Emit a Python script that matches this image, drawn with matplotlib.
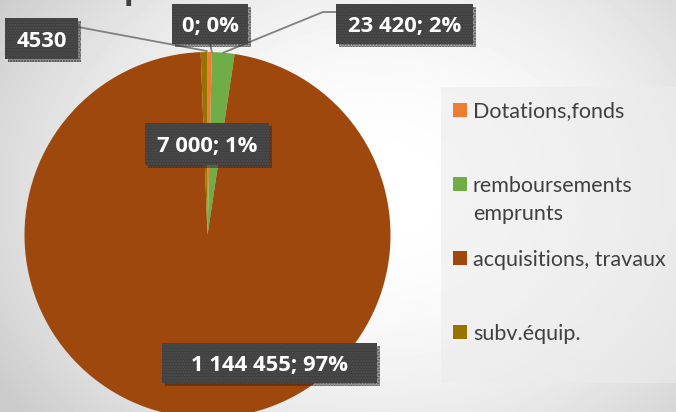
import numpy as np
import matplotlib
matplotlib.use("Agg")
import matplotlib.pyplot as plt
from matplotlib.patches import Rectangle
import matplotlib.patheffects as pe

# ---------------- data ----------------
categories = ["Dotations,fonds", "", "remboursements\nemprunts",
              "acquisitions, travaux", "subv.équip."]
values = [4530, 0, 23420, 1144455, 7000]
colors = ["#ED7D31", "#A5A5A5", "#70AD47", "#9E480E", "#997300"]
legend_items = [0, 2, 3, 4]
label_override = {0: "4530"}

# ---------------- figure ----------------
W, H = 676, 412
fig = plt.figure(figsize=(W / 100, H / 100), dpi=100)

# background gradient
bg = fig.add_axes([0, 0, 1, 1], zorder=-10)
yy, xx = np.mgrid[0:H, 0:W]
d = ((xx - 380) / 450.0) ** 2 + ((yy - 190) / 360.0) ** 2
val = 1 - 0.2 * np.clip(d, 0, 1)
bg.imshow(val, cmap="gray", vmin=0, vmax=1, extent=(0, W, H, 0),
          aspect="auto", interpolation="bilinear")
bg.set_xlim(0, W)
bg.set_ylim(H, 0)
bg.axis("off")
# legend panel
bg.add_patch(Rectangle((441, 87), W - 441, 383 - 87, facecolor="#ececec",
                       alpha=0.6, linewidth=0))

# pie
cx, cy, r = 207.5, 235.0, 183.0
ax = fig.add_axes([(cx - r) / W, (H - cy - r) / H, 2 * r / W, 2 * r / H])
wedges, _ = ax.pie(values, colors=colors, startangle=90, counterclock=False,
                   radius=1, wedgeprops=dict(linewidth=0))
ax.set_xlim(-1, 1)
ax.set_ylim(-1, 1)
ax.axis("off")

# overlay axes in pixel coordinates (from top-left)
ov = fig.add_axes([0, 0, 1, 1], zorder=10)
ov.set_xlim(0, W)
ov.set_ylim(H, 0)
ov.axis("off")
ov.patch.set_alpha(0)

total = float(sum(values))


def fmt(i):
    if i in label_override:
        return label_override[i]
    v = values[i]
    return f"{v:,}".replace(",", " ") + f"; {round(100 * v / total):.0f}%"


def edge_point(i):
    w = wedges[i]
    th = np.deg2rad((w.theta1 + w.theta2) / 2.0)
    return cx + r * np.cos(th), cy - r * np.sin(th)


# label boxes: (x, y, w, h) in px from top-left
boxes = {0: (5, 18, 73, 41), 1: (172, 4, 76, 40), 2: (336, 4, 137, 40),
         4: (145, 123, 124, 42), 3: (162, 343, 215, 40)}

# leader lines
lc = "#808080"
px, py = edge_point(0)
ov.plot([78, px - 3], [27, py - 1], color=lc, lw=1.3, zorder=1)
px, py = edge_point(1)
ov.plot([210, px], [44, py], color=lc, lw=1.3, zorder=1)
px, py = edge_point(2)
ov.plot([336, 323, px], [12, 12, py], color=lc, lw=1.3, zorder=1)

for i, (bx, by, bw, bh) in boxes.items():
    rect = Rectangle((bx, by), bw, bh, facecolor="#404040", edgecolor="#4e4e4e",
                     hatch="......", linewidth=0, zorder=2)
    rect.set_path_effects([pe.SimplePatchShadow(offset=(2.5, -2.5),
                                                shadow_rgbFace="k", alpha=0.35),
                           pe.Normal()])
    ov.add_patch(rect)
    ov.text(bx + bw / 2.0, by + bh / 2.0 + 8, fmt(i), ha="center",
            va="baseline", color="white", fontsize=15.8, fontweight="bold",
            family="Open Sans", zorder=3)

# legend
row_y = [110, 184, 258, 332]
line_gap = 28
for k, i in enumerate(legend_items):
    yc = row_y[k]
    ov.add_patch(Rectangle((453, yc - 7), 14, 14, facecolor=colors[i],
                           linewidth=0, zorder=2))
    for j, line in enumerate(categories[i].split("\n")):
        ov.text(473, yc + 7.5 + j * line_gap, line, ha="left", va="baseline",
                color="#404040", fontsize=15.5, family="Lato", zorder=3)

# partially visible title (cut off at top)
ov.text(124, 0, "p", ha="left", va="baseline", color="#404040", fontsize=28,
        fontweight="bold", family="Lato", zorder=3, clip_on=False)

fig.savefig("out.png", dpi=100)
